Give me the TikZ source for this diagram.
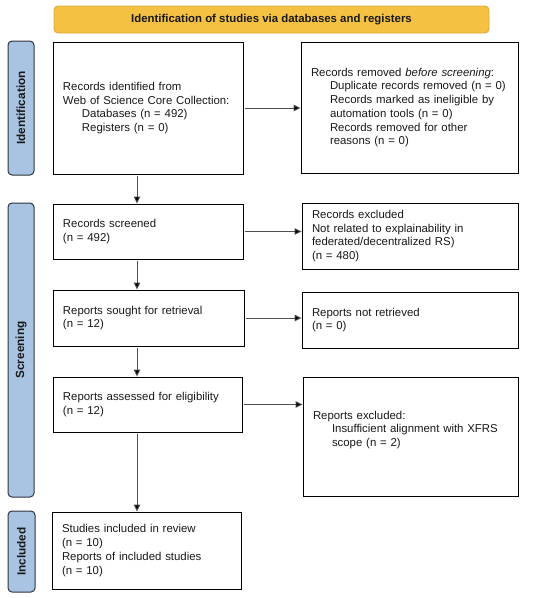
\documentclass[tikz,border=0pt]{standalone}
\usepackage{fontspec}
\setmainfont{Liberation Sans}
\usetikzlibrary{arrows.meta,calc}
\definecolor{bannerfill}{HTML}{F4C142}
\definecolor{bannerdraw}{HTML}{D9A73A}
\definecolor{sidefill}{HTML}{A8C4E2}
\definecolor{sidedraw}{HTML}{2E3440}
\definecolor{linec}{HTML}{505050}
\tikzset{
  box/.style={draw=black, line width=0.9pt, fill=white, align=left, inner xsep=10pt, inner ysep=0pt,
    font=\fontsize{11.4}{13.7}\selectfont, text=black!90},
  side/.style={draw=sidedraw, line width=1pt, fill=sidefill, rounded corners=4pt, inner sep=0pt,
    font=\fontsize{11.8}{14}\selectfont\bfseries, text=black!90},
  banner/.style={draw=bannerdraw, line width=0.8pt, fill=bannerfill, rounded corners=4pt, inner sep=0pt,
    font=\fontsize{11.4}{13.7}\selectfont\bfseries, text=black!90},
  arr/.style={draw=linec, line width=0.9pt, -{Triangle[length=7pt,width=6.5pt,fill=black]}, shorten <=1.5pt}
}
\newcommand{\ind}{\hspace*{19pt}}
\begin{document}
\begin{tikzpicture}[x=1pt,y=-1pt]
\useasboundingbox (0,0) rectangle (550,598);
% banner
\node[banner, minimum width=435pt, minimum height=27pt] (ban) at (271.5,19.5) {Identification of studies via databases and registers};
% side bars
\node[side, minimum width=26pt, minimum height=134pt] (s1) at (21,108) {};
\node[rotate=90, font=\fontsize{11.8}{14}\selectfont\bfseries, text=black!90] (s1t) at (s1.center) {Identification};
\node[side, minimum width=26pt, minimum height=294pt] (s2) at (21,350) {};
\node[rotate=90, font=\fontsize{11.8}{14}\selectfont\bfseries, text=black!90] (s2t) at (s2.center) {Screening};
\node[side, minimum width=27pt, minimum height=81pt] (s3) at (21.5,551.5) {};
\node[rotate=90, font=\fontsize{11.8}{14}\selectfont\bfseries, text=black!90] (s3t) at (s3.center) {Included};
% left column
\node[box, text width=170pt, minimum height=132pt] (b1) at (148,108) {Records identified from\\Web of Science Core Collection:\\\ind Databases (n = 492)\\\ind Registers (n = 0)};
\node[box, text width=170pt, minimum height=55pt] (b2) at (148,231.5) {Records screened\\(n = 492)};
\node[box, text width=171pt, minimum height=56pt] (b3) at (148.5,318) {Reports sought for retrieval\\(n = 12)};
\node[box, text width=169pt, minimum height=55pt] (b4) at (147.5,404.5) {Reports assessed for eligibility\\(n = 12)};
\node[box, text width=169pt, minimum height=77pt] (b5) at (146.5,550.5) {Studies included in review\\(n = 10)\\Reports of included studies\\(n = 10)};
% right column
\node[box, text width=197pt, minimum height=131pt] (r1) at (409.5,107.5) {Records removed \textit{before screening}:\\\ind Duplicate records removed (n = 0)\\\ind Records marked as ineligible by\\\ind automation tools (n = 0)\\\ind Records removed for other\\\ind reasons (n = 0)};
\node[box, text width=196pt, minimum height=66pt] (r2) at (410,236) {Records excluded\\Not related to explainability in\\federated/decentralized RS)\\(n = 480)};
\node[box, text width=196pt, minimum height=56pt] (r3) at (410,320) {Reports not retrieved\\(n = 0)};
\node[box, text width=195pt, minimum height=119pt] (r4) at (410.5,436.5) {Reports excluded:\\\ind Insufficient alignment with XFRS\\\ind scope (n = 2)\par\kern13pt};
% connectors
\coordinate (ax) at (137,0);
\draw[arr] (b1.east) -- (b1.east -| r1.west);
\draw[arr] (b2.east) -- (b2.east -| r2.west);
\draw[arr] (b3.east) -- (b3.east -| r3.west);
\draw[arr] (b4.east) -- (b4.east -| r4.west);
\draw[arr] (b1.south -| ax) -- (b2.north -| ax);
\draw[arr] (b2.south -| ax) -- (b3.north -| ax);
\draw[arr] (b3.south -| ax) -- (b4.north -| ax);
\draw[arr] (b4.south -| ax) -- (b5.north -| ax);
\end{tikzpicture}
\end{document}
